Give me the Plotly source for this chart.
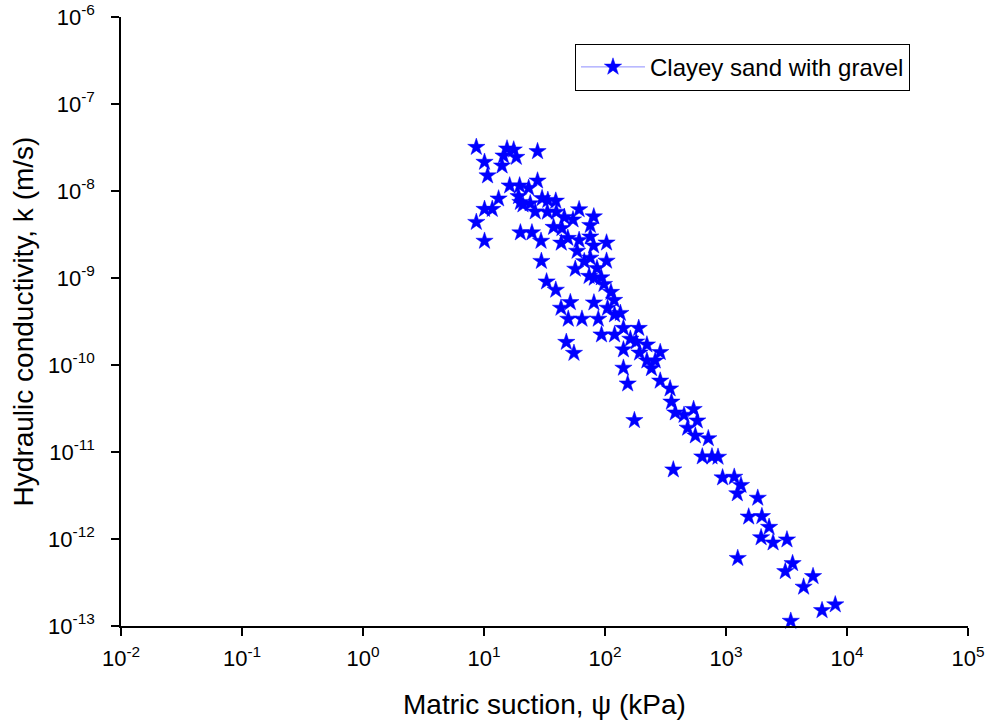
import plotly.graph_objects as go

# Matric suction (kPa) and hydraulic conductivity (m/s)
suction_kpa = [
    8.64, 15.5, 17.6, 14.5, 18.5, 27.7, 10.1, 14.1, 10.7, 16.3,
    19.7, 27.7, 23.4, 13.2, 19.3, 30.2, 33.7, 39.2, 20.0, 24.1,
    10.1, 11.7, 21.0, 26.5, 33.4, 39.6, 61.1, 46.1, 54.4, 80.8,
    8.64, 37.6, 44.1, 75.6, 20.0, 24.9, 10.1, 29.6, 49.3, 43.5,
    61.1, 75.6, 80.5, 103, 58.8, 29.8, 67.4, 75.6, 103, 56.8,
    85.9, 73.9, 81.6, 93.2, 32.9, 98.1, 39.2, 112, 119, 51.7,
    81.0, 43.3, 105, 120, 134, 49.7, 64.5, 88.0, 142, 190,
    93.6, 120, 162, 181, 47.9, 222, 55.4, 142, 193, 286,
    222, 260, 242, 142, 154, 286, 345, 354, 381, 450,
    540, 579, 175, 482, 558, 714, 637, 766, 859, 367,
    937, 1170, 1330, 1240, 1830, 1540, 1980, 2270, 1950, 2450,
    3190, 1250, 3550, 3090, 5240, 4380, 8000, 6220, 3430,
]
conductivity_ms = [
    3.19e-8, 3.06e-8, 2.98e-8, 2.54e-8, 2.45e-8, 2.85e-8, 2.15e-8, 1.95e-8, 1.50e-8, 1.15e-8,
    1.15e-8, 1.31e-8, 1.08e-8, 8.15e-9, 8.67e-9, 8.22e-9, 7.84e-9, 7.69e-9, 7.43e-9, 7.18e-9,
    6.18e-9, 6.18e-9, 6.96e-9, 5.78e-9, 5.74e-9, 5.74e-9, 6.13e-9, 5.00e-9, 4.68e-9, 5.07e-9,
    4.38e-9, 3.84e-9, 3.72e-9, 4.04e-9, 3.32e-9, 3.32e-9, 2.66e-9, 2.66e-9, 2.87e-9, 2.53e-9,
    2.72e-9, 2.98e-9, 2.35e-9, 2.54e-9, 2.04e-9, 1.56e-9, 1.55e-9, 1.70e-9, 1.57e-9, 1.27e-9,
    1.29e-9, 1.05e-9, 1.00e-9, 1.01e-9, 9.07e-10, 8.49e-10, 7.28e-10, 6.87e-10, 5.56e-10, 5.24e-10,
    5.20e-10, 4.52e-10, 4.52e-10, 3.79e-10, 3.94e-10, 3.38e-10, 3.38e-10, 3.38e-10, 2.65e-10, 2.65e-10,
    2.23e-10, 2.23e-10, 1.99e-10, 1.85e-10, 1.83e-10, 1.71e-10, 1.37e-10, 1.50e-10, 1.38e-10, 1.40e-10,
    1.12e-10, 1.12e-10, 9.14e-11, 9.24e-11, 6.09e-11, 6.57e-11, 5.34e-11, 3.77e-11, 2.83e-11, 2.66e-11,
    3.10e-11, 2.29e-11, 2.31e-11, 1.89e-11, 1.54e-11, 1.43e-11, 8.83e-12, 8.83e-12, 8.76e-12, 6.26e-12,
    5.07e-12, 5.16e-12, 4.15e-12, 3.33e-12, 2.96e-12, 1.80e-12, 1.82e-12, 1.37e-12, 1.04e-12, 9.07e-13,
    9.82e-13, 6.01e-13, 5.24e-13, 4.24e-13, 3.72e-13, 2.81e-13, 1.76e-13, 1.51e-13, 1.14e-13,
]

series_name = "Clayey sand with gravel"

x_tick_values = [1e-2, 1e-1, 1e0, 1e1, 1e2, 1e3, 1e4, 1e5]
x_tick_labels = ["10<sup>-2</sup>", "10<sup>-1</sup>", "10<sup>0</sup>", "10<sup>1</sup>",
                 "10<sup>2</sup>", "10<sup>3</sup>", "10<sup>4</sup>", "10<sup>5</sup>"]
y_tick_values = [1e-13, 1e-12, 1e-11, 1e-10, 1e-9, 1e-8, 1e-7, 1e-6]
y_tick_labels = ["10<sup>-13</sup>", "10<sup>-12</sup>", "10<sup>-11</sup>", "10<sup>-10</sup>",
                 "10<sup>-9</sup>", "10<sup>-8</sup>", "10<sup>-7</sup>", "10<sup>-6</sup>"]

FONT = "Liberation Sans, Arial, sans-serif"
BLUE = "#0000FF"

fig = go.Figure()
fig.add_trace(go.Scatter(
    x=suction_kpa, y=conductivity_ms, mode="markers",
    marker=dict(symbol="star", size=13, color=BLUE, line=dict(width=0.5, color=BLUE)),
    showlegend=False, legendgroup="s", cliponaxis=False,
))
# legend entry (SigmaPlot-style line + symbol)
fig.add_trace(go.Scatter(
    x=[None], y=[None], mode="lines+markers", name=series_name, legendgroup="s",
    line=dict(color="rgba(0,0,255,0.45)", width=1),
    marker=dict(symbol="star", size=13, color=BLUE, line=dict(width=0.5, color=BLUE)),
))

axis_common = dict(
    type="log", showgrid=False, zeroline=False, showline=True, linecolor="black",
    linewidth=1.5, ticks="outside", ticklen=8, tickwidth=1.5, tickcolor="black",
    tickfont=dict(family=FONT, size=22, color="black"), mirror=False,
)

fig.update_layout(
    width=989, height=726, autosize=False,
    margin=dict(l=121, r=21, t=17, b=100),
    paper_bgcolor="white", plot_bgcolor="white",
    font=dict(family=FONT, color="black"),
    xaxis=dict(range=[-2, 5], tickvals=x_tick_values, ticktext=x_tick_labels,
               ticklabelstandoff=4,
               title=dict(text="Matric suction, ψ (kPa)", font=dict(family=FONT, size=28), standoff=24),
               automargin=False, **axis_common),
    yaxis=dict(range=[-13, -6], tickvals=y_tick_values, ticktext=y_tick_labels,
               ticklabelstandoff=12,
               title=dict(text="Hydraulic conductivity, k (m/s)", font=dict(family=FONT, size=28), standoff=6),
               automargin=False, **axis_common),
    legend=dict(x=0.536, y=0.956, xanchor="left", yanchor="top",
                bgcolor="white", bordercolor="black", borderwidth=1,
                font=dict(family=FONT, size=24, color="black"), itemwidth=64),
)

fig.write_html("out.html")
